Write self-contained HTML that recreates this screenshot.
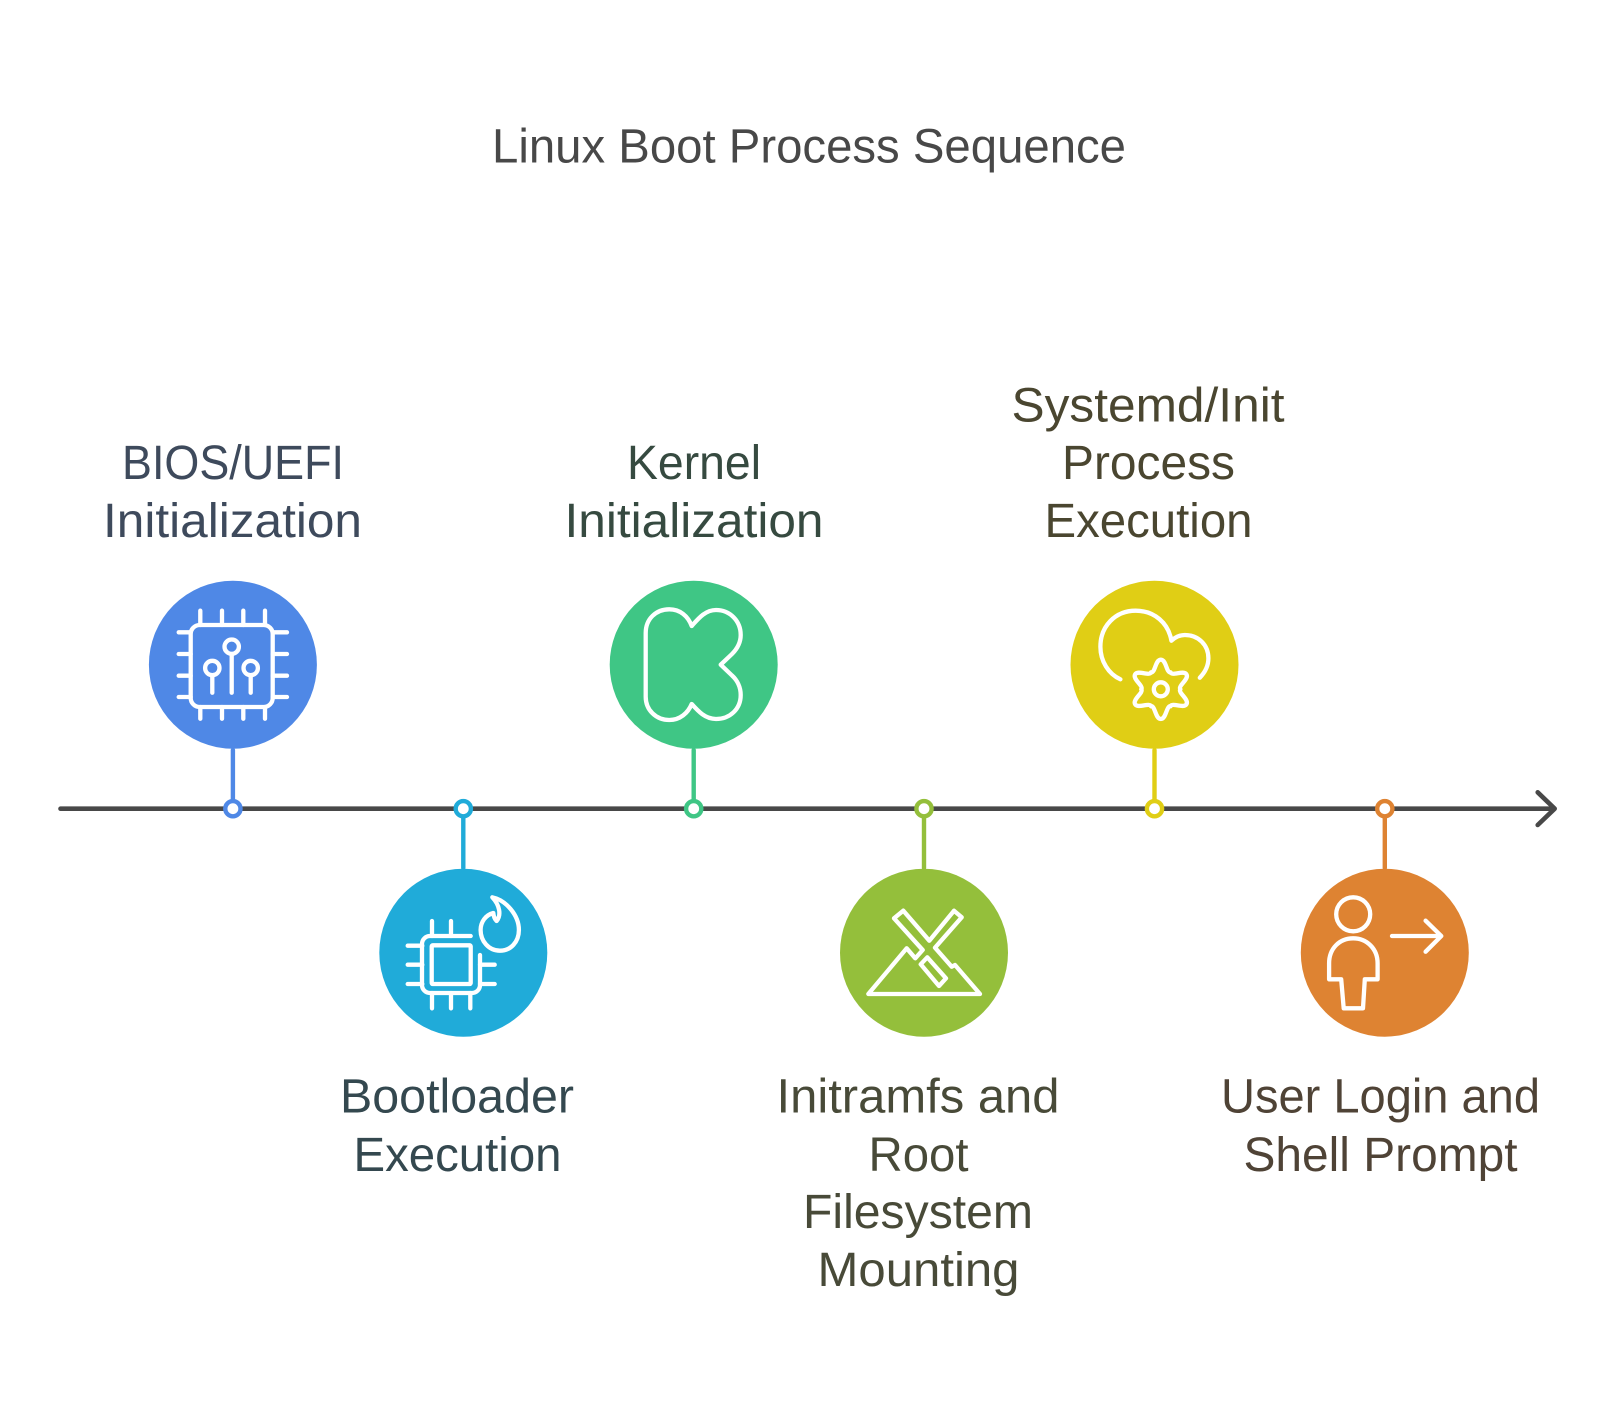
<!DOCTYPE html>
<html><head><meta charset="utf-8"><style>
html,body{margin:0;padding:0;background:#fff}
svg{display:block}
text{font-family:"Liberation Sans",sans-serif;font-size:48px}
.i{fill:none;stroke:#fff;stroke-width:4.3;stroke-linecap:round;stroke-linejoin:round}
</style></head><body>
<svg width="1618" height="1417" viewBox="0 0 1618 1417" xmlns="http://www.w3.org/2000/svg">
<rect width="1618" height="1417" fill="#fff"/>
<text x="492" y="162.3" textLength="634" lengthAdjust="spacingAndGlyphs" fill="#484848">Linux Boot Process Sequence</text>

<text x="122" y="479" textLength="222" lengthAdjust="spacingAndGlyphs" fill="#3e4a5c">BIOS/UEFI</text>
<text x="103" y="536.8" textLength="259" lengthAdjust="spacingAndGlyphs" fill="#3e4a5c">Initialization</text>
<text x="627" y="479" textLength="134" lengthAdjust="spacingAndGlyphs" fill="#364a40">Kernel</text>
<text x="564.5" y="536.8" textLength="259" lengthAdjust="spacingAndGlyphs" fill="#364a40">Initialization</text>
<text x="1011.5" y="421.5" textLength="273" lengthAdjust="spacingAndGlyphs" fill="#4a4630">Systemd/Init</text>
<text x="1062" y="479" textLength="173" lengthAdjust="spacingAndGlyphs" fill="#4a4630">Process</text>
<text x="1044.5" y="536.8" textLength="208" lengthAdjust="spacingAndGlyphs" fill="#4a4630">Execution</text>

<text x="340" y="1112.4" textLength="234" lengthAdjust="spacingAndGlyphs" fill="#34484f">Bootloader</text>
<text x="353.5" y="1170.8" textLength="208" lengthAdjust="spacingAndGlyphs" fill="#34484f">Execution</text>
<text x="776.5" y="1112.4" textLength="283" lengthAdjust="spacingAndGlyphs" fill="#484a38">Initramfs and</text>
<text x="868.5" y="1170.8" textLength="100" lengthAdjust="spacingAndGlyphs" fill="#484a38">Root</text>
<text x="803" y="1228" textLength="230" lengthAdjust="spacingAndGlyphs" fill="#484a38">Filesystem</text>
<text x="817.5" y="1286" textLength="202" lengthAdjust="spacingAndGlyphs" fill="#484a38">Mounting</text>
<text x="1221" y="1112.4" textLength="319" lengthAdjust="spacingAndGlyphs" fill="#4f4336">User Login and</text>
<text x="1243.5" y="1170.8" textLength="274" lengthAdjust="spacingAndGlyphs" fill="#4f4336">Shell Prompt</text>

<!-- timeline -->
<path d="M60.5 808.7H1554" fill="none" stroke="#484848" stroke-width="4.6" stroke-linecap="round"/>
<path d="M1537.7 792.3L1554.7 808.7L1537.7 825" fill="none" stroke="#484848" stroke-width="4.6" stroke-linecap="round" stroke-linejoin="round"/>

<!-- connectors and dots -->
<g stroke-width="4.4" fill="#fff" stroke-linecap="round">
<path d="M232.9 750V800" stroke="#4f88e6"/><circle cx="232.9" cy="808.7" r="7.6" stroke="#4f88e6"/>
<path d="M463.3 818V868" stroke="#20abd9"/><circle cx="463.3" cy="808.7" r="7.6" stroke="#20abd9"/>
<path d="M693.7 750V800" stroke="#3fc685"/><circle cx="693.7" cy="808.7" r="7.6" stroke="#3fc685"/>
<path d="M924 818V868" stroke="#94bf3b"/><circle cx="924" cy="808.7" r="7.6" stroke="#94bf3b"/>
<path d="M1154.5 750V800" stroke="#e0ce15"/><circle cx="1154.5" cy="808.7" r="7.6" stroke="#e0ce15"/>
<path d="M1384.8 818V868" stroke="#de8332"/><circle cx="1384.8" cy="808.7" r="7.6" stroke="#de8332"/>
</g>

<!-- circles -->
<circle cx="232.9" cy="664.7" r="84" fill="#4f88e6"/>
<circle cx="463.3" cy="952.7" r="84" fill="#20abd9"/>
<circle cx="693.7" cy="664.7" r="84" fill="#3fc685"/>
<circle cx="924" cy="952.7" r="84" fill="#94bf3b"/>
<circle cx="1154.5" cy="664.7" r="84" fill="#e0ce15"/>
<circle cx="1384.8" cy="952.7" r="84" fill="#de8332"/>

<!-- chip sliders -->
<g class="i">
<rect x="190.7" y="625" width="82" height="82" rx="9"/>
<path d="M200.3 610.7V625M222 610.7V625M243.3 610.7V625M265 610.7V625M200.3 707V718.7M222 707V718.7M243.3 707V718.7M265 707V718.7"/>
<path d="M178.7 632.3H190.7M178.7 654H190.7M178.7 675.7H190.7M178.7 697H190.7M272.7 632.3H287M272.7 654H287M272.7 675.7H287M272.7 697H287"/>
<circle cx="231.7" cy="646.7" r="7.2"/><path d="M231.7 654V692.7"/>
<circle cx="212.3" cy="668" r="7.2"/><path d="M212.3 675.3V692.7"/>
<circle cx="250.7" cy="668" r="7.2"/><path d="M250.7 675.3V692.7"/>
</g>

<!-- chip flame -->
<g class="i">
<path d="M470.7 936H430a8 8 0 0 0 -8 8V985a8 8 0 0 0 8 8H472a8 8 0 0 0 8 -8V955"/>
<rect x="431.7" y="945.3" width="39" height="38.7" rx="1"/>
<path d="M432 921V936M451 921V936M432 993V1008.3M451 993V1008.3M470.3 993V1008.3"/>
<path d="M407.7 945.7H422.3M407.7 964.7H422.3M407.7 984H422.3M480 964.7H494.7M480 984H494.7"/>
<path transform="translate(0.6,0)" d="M491.7 897.3C505 900 518.3 915 518.3 930C518.3 942 510 950.7 499.3 950.7C488 950.7 480 941 480 930C480 922 485 915 492.7 913C493 916 494 919 496 921C501 915 499 905 491.7 897.3Z"/>
</g>

<!-- K -->
<path class="i" d="M645.7 633C645.7 619 656 609.3 669.3 609.3C680 609.3 688 616 691.7 626C698 619 705 610 716 610C730 610 740.7 621 740.7 635C740.7 643 737 649 732 654L720.7 664.7L732 675.5C737 680 740.7 687 740.7 695C740.7 709 730 719 716 719C705 719 698 711 691.7 704C688 713 680 720 669.3 720C656 720 645.7 710 645.7 696.7Z"/>

<!-- X / mountain -->
<g class="i">
<path d="M868.3 994H980L955 965L951.7 966.7L935 947.7L961.7 917.3L954 910.7L929.3 940.7L903.3 910.7L894 918.3L922.7 950L915.3 958.3L906.7 948.3Z"/>
<path d="M927.3 957.3L920.7 964.3L939 986L946 978.3Z"/>
</g>

<!-- cloud gear -->
<g class="i">
<path transform="translate(-0.6,0)" d="M1121 679.3C1109 674 1101 661 1101 646.7C1101 626 1116 610.7 1136.3 610.7C1155 610.7 1169 623 1172 640.7C1176 637 1180 635 1185.5 635C1199 635 1209 645 1209 658.3C1209 666 1206 672 1200.4 677.7"/>
<g transform="translate(1160.8,689.3)">
<circle cx="0" cy="0" r="7"/>
<path d="M-9.75 -16.9C-5.5 -16.5 -5.5 -29.7 0 -29.7C5.5 -29.7 5.5 -16.5 9.75 -16.9"/>
<path transform="rotate(60)" d="M-9.75 -16.9C-5.5 -16.5 -5.5 -29.7 0 -29.7C5.5 -29.7 5.5 -16.5 9.75 -16.9"/>
<path transform="rotate(120)" d="M-9.75 -16.9C-5.5 -16.5 -5.5 -29.7 0 -29.7C5.5 -29.7 5.5 -16.5 9.75 -16.9"/>
<path transform="rotate(180)" d="M-9.75 -16.9C-5.5 -16.5 -5.5 -29.7 0 -29.7C5.5 -29.7 5.5 -16.5 9.75 -16.9"/>
<path transform="rotate(240)" d="M-9.75 -16.9C-5.5 -16.5 -5.5 -29.7 0 -29.7C5.5 -29.7 5.5 -16.5 9.75 -16.9"/>
<path transform="rotate(300)" d="M-9.75 -16.9C-5.5 -16.5 -5.5 -29.7 0 -29.7C5.5 -29.7 5.5 -16.5 9.75 -16.9"/>
</g>
</g>

<!-- person arrow -->
<g class="i" transform="translate(-2,0)">
<circle cx="1355.2" cy="914.3" r="17"/>
<path d="M1355.2 938.3C1341 938.3 1331.1 949 1331.1 963.3V979.3H1343.2L1345.7 1008.3H1365L1366.8 979.3H1379.6V963.3C1379.6 949 1369 938.3 1355.2 938.3Z"/>
<path d="M1394 936H1443.3M1427.6 920.7L1443.3 936L1427.6 951.7"/>
</g>
</svg>
</body></html>
